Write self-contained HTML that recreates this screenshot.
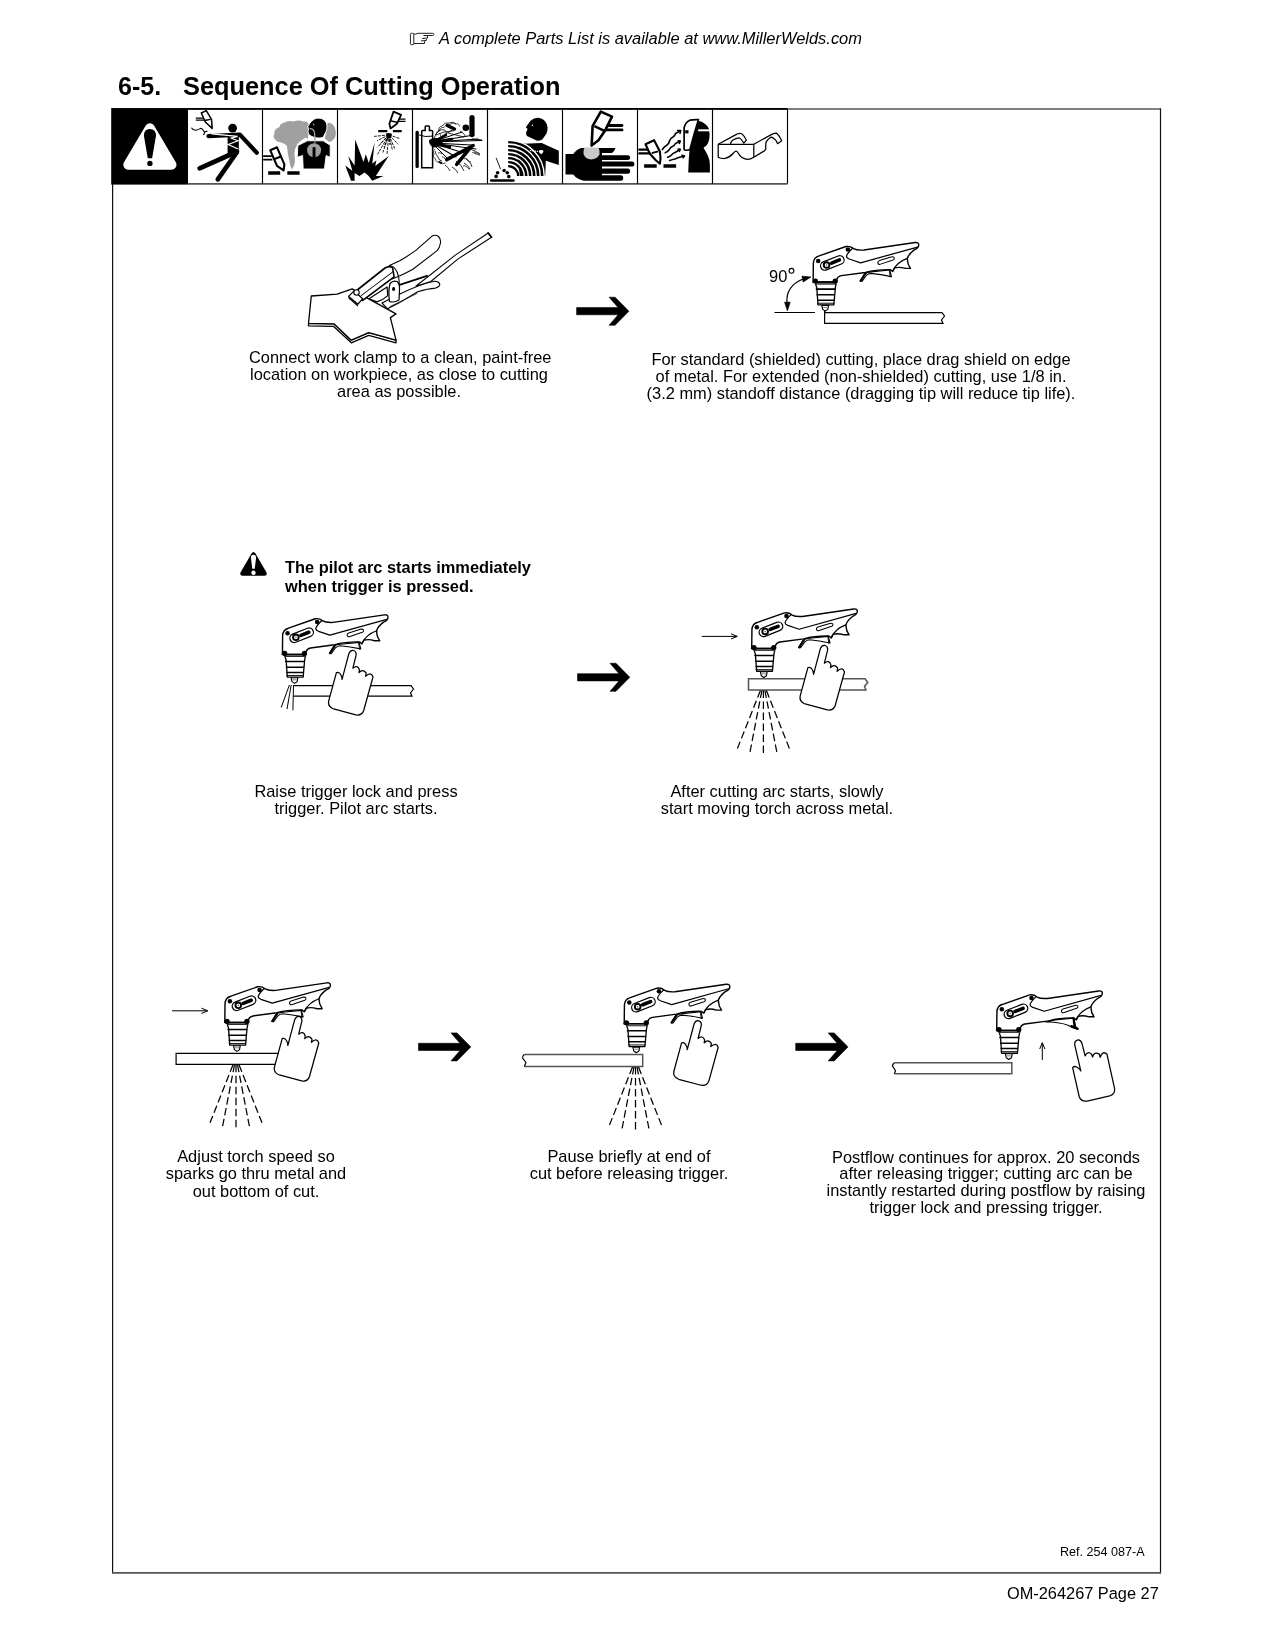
<!DOCTYPE html>
<html><head><meta charset="utf-8">
<style>
html,body{margin:0;padding:0;background:#fff;}
body{width:1275px;height:1650px;position:relative;overflow:hidden;font-family:"Liberation Sans",sans-serif;color:#000;}
.t{position:absolute;white-space:pre;font-size:16.4px;line-height:17px;will-change:transform;}
.c{text-align:center;}
svg{position:absolute;overflow:visible;}
</style></head><body>

<!-- header -->
<svg width="1275" height="60" style="left:0;top:0;" viewBox="0 0 1275 60"><g fill="none" stroke="#222" stroke-width="1">
<rect x="410.4" y="33.3" width="3.4" height="11.4" rx="1"/>
<path d="M413.8 34.5 Q416 34 418 33.3 L432.5 33.3 Q433.8 33.3 433.8 34.4 Q433.8 35.5 432.5 35.5 L423.5 35.5 M427.5 35.8 L427.5 38 L422 38.5 M426.3 38.8 L426.3 40.5 L421 40.9 M424.5 41.2 L424.5 43.5 L413.8 43.5"/>
</g></svg>

<div class="t" id="hdr" style="left:438.5px;top:30px;font-style:italic;font-size:16.46px;">A complete Parts List is available at www.MillerWelds.com</div>
<div class="t" id="ttl1" style="left:118.2px;top:71.6px;font-weight:bold;font-size:25px;line-height:28px;">6-5.</div>
<div class="t" id="ttl2" style="left:183.3px;top:71.6px;font-weight:bold;font-size:25.35px;line-height:28px;">Sequence Of Cutting Operation</div>

<!-- box -->
<svg width="1275" height="1650" style="left:0;top:0;" viewBox="0 0 1275 1650"><g fill="none"><path d="M112.5 109 L1161 109" stroke="#555" stroke-width="1.7"/><path d="M112.6 108.5 L112.6 1573.5 M1160.5 108.5 L1160.5 1573.5" stroke="#111" stroke-width="1.2"/><path d="M112 1572.9 L1161 1572.9" stroke="#555" stroke-width="1.7"/></g></svg>


<svg id="icons" width="1275" height="200" style="left:0;top:0;" viewBox="0 0 1275 200">
<rect x="111.2" y="108.1" width="76.8" height="76.5" fill="#000"/>
<g fill="none" stroke="#000" stroke-width="1.15">
 <path d="M188 108.9 L787.5 108.9" stroke-width="1.7"/>
 <path d="M787.5 108.8 L787.5 183.8"/>
 <path d="M787.5 183.85 L188 183.85" stroke="#555" stroke-width="1.6"/>
 <path d="M262.5 108.8 V183.8 M337.5 108.8 V183.8 M412.5 108.8 V183.8 M487.5 108.8 V183.8 M562.5 108.8 V183.8 M637.5 108.8 V183.8 M712.5 108.8 V183.8"/>
</g>
<!-- icon1 warning -->
<g transform="translate(111,109)">
 <path d="M38.9 19.3 L17.3 55.8 L60.5 55.8 Z" fill="#fff" stroke="#fff" stroke-width="10" stroke-linejoin="round"/>
 <path d="M32.9 26.8 Q32.9 19.9 38.9 19.9 Q45 19.9 45 26.8 L41.1 49.2 L36.8 49.2 Z" fill="#000"/>
 <circle cx="38.9" cy="54.4" r="2.7" fill="#000"/>
</g>
<!-- icon2 electric shock -->
<g transform="translate(187,109)">
 <circle cx="45.6" cy="19.1" r="4.4" fill="#000"/>
 <path d="M21.5 27.1 L52.9 25.6 L69.8 43.8" fill="none" stroke="#000" stroke-width="4.2" stroke-linecap="round" stroke-linejoin="round"/>
 <path d="M40.6 27 L51.8 27 L51.8 44.7 L40.6 44.7 Z" fill="#000"/>
 <path d="M24.7 24.8 L50.6 27.4 L44.2 29.2 L51 31.8 L41.2 35.5 L51.2 40" fill="none" stroke="#fff" stroke-width="1.2" stroke-linejoin="miter"/>
 <path d="M43.5 45.5 L12.6 59.3 M50 43 L30.8 70.3" fill="none" stroke="#000" stroke-width="4.7" stroke-linecap="round"/>
 <path d="M14.3 4 L19.3 1.6 L24.5 10.3 L25.2 19.4 L18.5 13.3 Z" fill="#fff" stroke="#000" stroke-width="1.5" stroke-linejoin="round"/>
 <path d="M17.6 11.5 L23.5 10.3" stroke="#000" stroke-width="1.3"/>
 <path d="M8.8 9.1 L16.8 9.1 M8.8 11.2 L17.8 11.2" stroke="#000" stroke-width="1.2"/>
 <path d="M4.4 18.8 Q6 21.5 9 21.2 Q12 20.5 13.5 19.4 Q15.5 19.5 16.5 21.8 L17.6 23.5 M16.5 26 L18.2 22.5 L20.6 22.3" fill="none" stroke="#000" stroke-width="1.1"/>
</g>
<!-- icon3 fumes -->
<g transform="translate(262,109)">
 <path d="M12.9 30.6 Q10.5 27 12.4 25 Q11.5 20 17.6 18 Q17.6 14.5 22.4 13.5 Q26 11 31.8 12.6 Q36 10.5 41.2 12.4 Q45 12 47 15.5 L46 30 L44.7 28.8 Q40 30 35.3 35.3 Q32.4 40 32.4 44.7 Q33 50 32.9 52.9 Q32 58 30 60.5 Q28 58 27.6 52.9 Q26.5 48 25.9 44.7 Q25.5 40 24.7 36.5 Q22 34 18.8 33.5 Q14.5 33 12.9 30.6 Z" fill="#a0a0a0"/>
 <path d="M62.9 29.4 L65.5 14 Q68 13 70.6 15.3 Q73.5 18 73.8 22.4 Q74 27.5 72.4 29.4 Q70 32.5 67.1 32.9 Z" fill="#a0a0a0"/>
 <path d="M45.9 17.6 Q48 13.5 50 11.8 Q53 9 55.9 9.1 Q60 9 62.4 11.2 Q65 13.5 65 17.1 Q65 20 64.1 22.4 L61.2 28.2 Q58 29.5 54.1 28.8 L50 27.6 Q47 26 46.5 24.7 Q45.5 22 46.5 20 Z" fill="#000" stroke="#fff" stroke-width="0.9"/>
 <path d="M51.2 14.9 L52.2 15.6 L51 16" fill="none" stroke="#fff" stroke-width="0.7"/>
 <path d="M35.9 36.5 L45.3 31.8 L61.2 31.8 L68.2 36.2 L68.2 48.2 L64.1 46.5 L62.4 60 L41.2 60 L40.6 46.5 L35.3 48.2 Z" fill="#000" stroke="#fff" stroke-width="0.9"/>
 <circle cx="52.1" cy="41.2" r="7" fill="#a0a0a0"/>
 <rect x="50.6" y="38.2" width="2.9" height="10.6" fill="#000"/>
 <path d="M47.6 19.6 Q52 19.5 52.6 24 L52.9 34.5" fill="none" stroke="#a0a0a0" stroke-width="1.2"/>
 <path d="M8.3 41.3 L15 38.3 L22.4 55.3 L21.6 61.4 L15 56.8 Z" fill="#fff" stroke="#000" stroke-width="2.1" stroke-linejoin="round"/>
 <path d="M11.8 50.2 L19.6 47.2" stroke="#000" stroke-width="2"/>
 <path d="M1.2 47.1 L9.7 47.1 M1.2 50.6 L10.3 50.6" stroke="#000" stroke-width="1.6"/>
 <path d="M6.2 64.1 L18.2 64.1 M25.3 64.1 L37.6 64.1" stroke="#000" stroke-width="3.5"/>
</g>
<!-- icon4 explosion -->
<g transform="translate(337,109)">
 <path d="M14.1 71.8 L8.2 56.5 L15.3 61.8 L11.2 47.1 L17.6 56.5 L18.2 30.6 L26.5 52.9 L28.8 45.3 L31.8 54.1 L37.6 33.5 L35.3 54.7 L39.4 51.2 L38.2 57.1 L51.8 47.1 L38.8 67.1 L46.5 67.1 L35.3 71.8 L31.2 66.5 L27.6 63.5 L22.4 67.1 L17.6 64 L17.6 71.8 Z" fill="#000"/>
 <path d="M56.5 2.6 L64.1 5.8 L60 14.7 L53.5 19.4 L52.4 14.7 Z" fill="#fff" stroke="#000" stroke-width="1.8" stroke-linejoin="round"/>
 <path d="M52.9 11.8 L61.2 13.5" stroke="#000" stroke-width="1.4"/>
 <path d="M61.8 10.2 L68.5 10.2 M61 12.4 L68.5 12.4" stroke="#000" stroke-width="1.3"/>
 <path d="M41.2 22.1 L50.3 22.1 M55.9 22.1 L64.7 22.1" stroke="#000" stroke-width="2.4"/>
 <path d="M49 24.5 Q52 23.5 55 25 L54 29 L50 30 Z" fill="#000"/>
 <g stroke="#000" stroke-width="0.9" fill="none" stroke-dasharray="3 1">
  <path d="M51.8 25.9 L37.1 27.4 M51.8 25.9 L40 31.8 M51.8 25.9 L40.6 38.2 M51.8 25.9 L40.6 45.3 M51.8 25.9 L45.9 43.5 M51.8 25.9 L50 45.3 M51.8 25.9 L55.3 40.6 M51.8 25.9 L58.2 40.6 M51.8 25.9 L61.2 35.3 M51.8 25.9 L62.4 29.4 M51.8 25.9 L43 35 M51.8 25.9 L47 38 M51.8 25.9 L53 36"/>
 </g>
</g>
<!-- icon5 cylinder -->
<g transform="translate(412,109)">
 <rect x="3.5" y="21.8" width="3.3" height="37.3" rx="1.5" fill="#000"/>
 <path d="M9.7 58.8 L9.7 22.5 Q9.7 21.5 10.7 21.5 L13.2 21.5 L13.2 18 Q13.2 17.1 14 17.1 L16.6 17.1 Q17.4 17.1 17.4 18 L17.4 21.5 L19.6 21.5 Q20.6 21.5 20.6 22.5 L20.6 58.8 Z" fill="#fff" stroke="#000" stroke-width="1.5"/>
 <path d="M6.8 25.9 Q13 28.5 20.6 27.1" fill="none" stroke="#000" stroke-width="1"/>
 <rect x="57.4" y="5.9" width="5.2" height="22.3" rx="2.6" fill="#000"/>
 <circle cx="53.8" cy="18.8" r="3.3" fill="#000"/>
 <g fill="none" stroke="#000" stroke-width="0.8">
  <path d="M22 30 Q23 24 27 22 Q26 18 30 17 Q33 13 37 14 Q41 12 44 15 M26 22 Q30 20 33 21 M24 26 Q32 22 40 22 M48 22 Q52 24 54 28 M36 24 Q44 26 52 28 M58 40 Q64 42 68 45 M52 54 Q56 56 58 60 M44 52 Q50 56 52 62 M23 42 Q24 46 26 48 Q27 52 30 52 M33 56 Q36 58 38 62 M40 58 Q44 60 46 64 M60 30 Q64 30 70 31 M62 44 Q66 46 68 46 M54 50 Q60 54 60 58"/>
 </g>
 <g fill="none" stroke="#000" stroke-linecap="round">
  <path d="M20 33 L62 26" stroke-width="1.2"/>
  <path d="M20 33 L66 30" stroke-width="1.1"/>
  <path d="M20 33 L70 31.5" stroke-width="1"/>
  <path d="M20 34 L60 36" stroke-width="1.2"/>
  <path d="M20 34 L64 40" stroke-width="1"/>
  <path d="M20 34 L52 44" stroke-width="1.3"/>
  <path d="M20 34 L44 48" stroke-width="1.1"/>
  <path d="M20 34 L36 50" stroke-width="1"/>
  <path d="M20 33 L50 23" stroke-width="1"/>
  <path d="M20 33 L42 20" stroke-width="0.9"/>
  <path d="M22 33 L40 30 M22 35 L38 38 M24 32 L34 26" stroke-width="2.4"/>
 </g>
 <g fill="none" stroke="#000" stroke-width="0.7">
  <path d="M24 26 Q24 22 27.5 22 Q28 18 32 18.5 Q34 14.5 38 15.5 Q41 12.5 44 15 Q47 14 47.5 17.5"/>
  <path d="M23 40 Q20 42 22 45 Q20 48 23.5 50 Q24 54 28 53 Q30 56 33.5 54"/>
  <path d="M27 24 Q29 25 29 28 M33 21 Q35 23 34 26 M40 18 Q42 20 41 23"/>
  <path d="M26 44 Q28 43 30 45 M30 48 Q32 47 33 50"/>
  <path d="M59 31 Q62 30 64 31.5 Q66 30 69 31.5 M60 44 Q62 42 64 44 Q66 43 67 45.5 M52 50 Q54 48 56 51 Q57 53 59 53 M51 57 Q53 56 55 58 Q56 60 58 60"/>
 </g>
 <path d="M17.1 31 Q20 28.5 26.5 29 L31 33 Q27 38.5 21 38.5 Q16.5 35 17.1 31 Z" fill="#000"/>
 <path d="M34.7 50.6 L61.2 36.5 M44.7 55.3 L58.8 38.2 M35.3 16.5 L42.4 20" stroke="#000" stroke-width="3.5" stroke-linecap="round"/>
 <path d="M26.5 51.8 L30.6 53.5 L29 55.3 L26.8 53.8 Z" fill="#000"/>
</g>
<!-- icon6 pacemaker -->
<g transform="translate(487,109)">
 <defs>
  <clipPath id="c6body"><path d="M36.5 34.7 L54.7 34.1 L71.8 41.8 L71.8 55.9 L58.8 51.8 L58.2 67.1 L32.9 67.1 L30 40 Z"/></clipPath>
  <clipPath id="c6arc"><rect x="21.2" y="0" width="60" height="67.1"/></clipPath>
 </defs>
 <path d="M38.8 18.2 L43.5 11.8 Q47 8.8 50.6 8.8 Q55 8.8 58.2 12.4 Q60.6 15 60.6 18.8 Q60.6 22 59.4 24.7 L55.3 30.6 Q53 31.8 50 31.8 L40 27.1 Q38.8 25 39.1 23.5 L40.6 20 Z" fill="#000"/>
 <circle cx="45.3" cy="16.2" r="0.7" fill="#fff"/>
 <g clip-path="url(#c6arc)" fill="none" stroke="#000" stroke-width="2.3">
  <circle cx="21.2" cy="67.1" r="10"/><circle cx="21.2" cy="67.1" r="14"/><circle cx="21.2" cy="67.1" r="18"/><circle cx="21.2" cy="67.1" r="22"/><circle cx="21.2" cy="67.1" r="26"/><circle cx="21.2" cy="67.1" r="30"/><circle cx="21.2" cy="67.1" r="34"/>
 </g>
 <path d="M36.5 34.7 L54.7 34.1 L71.8 41.8 L71.8 55.9 L58.8 51.8 L58.2 67.1 L32.9 67.1 L30 40 Z" fill="#000"/>
 <g clip-path="url(#c6body)" fill="none" stroke="#fff" stroke-width="1.4">
  <circle cx="21.2" cy="67.1" r="16"/><circle cx="21.2" cy="67.1" r="20"/><circle cx="21.2" cy="67.1" r="24"/><circle cx="21.2" cy="67.1" r="28"/><circle cx="21.2" cy="67.1" r="32"/><circle cx="21.2" cy="67.1" r="36"/>
 </g>
 <path d="M51.8 42 Q52.5 40.4 54 41.2 Q55.5 40.4 56.5 42 Q56.5 44 54 45.3 Q51.8 44 51.8 42 Z" fill="#fff"/>
 <path d="M43 41.5 L51 42.5" stroke="#fff" stroke-width="1.2" stroke-dasharray="1.5 0.8"/>
 <path d="M9.1 48.8 L13.5 60" stroke="#000" stroke-width="0.9"/>
 <g fill="#000"><circle cx="10.6" cy="63.8" r="1.8"/><circle cx="9.1" cy="67.4" r="1.8"/><circle cx="17.1" cy="61.5" r="1.8"/><circle cx="20.3" cy="63.8" r="1.8"/><circle cx="21.8" cy="67.6" r="1.8"/></g>
 <path d="M4.1 71.5 L26.5 71.5" stroke="#000" stroke-width="2.4" stroke-linecap="round"/>
</g>
<!-- icon7 glove -->
<g transform="translate(562,109)">
 <path d="M3.5 45 L11.2 45 Q15 40 19.4 39.1 L53.5 39.1 Q52.5 42.5 50 44.1 L40 44.1 L40 46.2 L66 46.2 Q68.2 46.5 68.2 48.5 Q68.2 50.9 66 50.9 L40 50.9 L40 52.4 L70 52.4 Q72.4 52.4 72.4 55 Q72.4 57.6 70 57.6 L40 57.6 L40 59.4 L66 59.4 Q68.2 59.4 68.2 62 Q68.2 64.7 66 64.7 L40 64.7 L40 66.2 L59 66.2 Q61.2 66.2 61.2 69 Q61.2 71.8 59 71.8 L21.8 71.8 Q15 70.5 11.2 65.6 L3.5 65.6 Z" fill="#000"/>
 <path d="M22.5 38.6 L36.5 38.6 Q38 42 37.5 45.5 Q35 50 29.4 50.5 Q23 50 21.5 45 Q21 41 22.5 38.6 Z" fill="#c8c8c8"/>
 <path d="M38.8 2.6 L50 7.6 L42.9 21.8 L36.5 31.2 L29.6 36.5 L30 29.4 L30.6 17.1 Z" fill="#fff" stroke="#000" stroke-width="2.6" stroke-linejoin="round"/>
 <path d="M32.4 17.1 L42.4 21.8" stroke="#000" stroke-width="2.4"/>
 <path d="M46 16.5 L60 16.5 M44.7 20.9 L60 20.9" stroke="#000" stroke-width="2.9" stroke-linecap="round"/>
</g>
<!-- icon8 helmet -->
<g transform="translate(637,109)">
 <path d="M8.5 35.3 L17.1 31.2 L22.9 42.4 L23.5 49.4 L22.9 54.7 L18.8 51.2 L12.9 44.7 Z" fill="#fff" stroke="#000" stroke-width="2.1" stroke-linejoin="round"/>
 <path d="M14.7 44.1 L21.2 42.4" stroke="#000" stroke-width="2"/>
 <path d="M2.4 40.6 L10.5 40.6 M2.4 44.4 L12.4 44.4" stroke="#000" stroke-width="2.4" stroke-linecap="round"/>
 <path d="M7.1 57.1 L19.7 57.1 M26.5 57.1 L39.1 57.1" stroke="#000" stroke-width="3.5"/>
 <g fill="none" stroke="#000" stroke-width="1.6" stroke-linecap="round">
  <path d="M25.3 40.6 Q27 37.5 29.5 36.5 Q32 35 32.5 32 Q33.5 29 36 28 Q38 26.5 38.5 24.5 L42.5 22.2"/>
  <path d="M28.2 43.8 Q30.5 43 32 41 Q33.5 38 35.5 37.5 Q37.5 36.5 38.5 34.5 L42.8 32.3"/>
  <path d="M30.6 48.2 Q33 47.5 34.5 46 Q36 44 38 43.5 Q40 42.5 42.8 40.5"/>
  <path d="M32.6 51.5 Q35.5 50.5 38 50 Q41 48.5 43.5 48 L47.2 47.1"/>
 </g>
 <path d="M40 21.5 L43.8 21.6 L42.8 25 M40.5 31.8 L43.3 32 L42.2 35 M40.5 40 L43.3 40.2 L42.2 43 M44.5 46 L47.6 47.1 L45.6 49.2" fill="none" stroke="#000" stroke-width="1.5" stroke-linejoin="round"/>
 <path d="M61.2 11.8 Q68.5 13.5 71.8 19.4 Q73 25 72.4 29.4 Q71.5 34 69.4 36.5 L66.5 38.8 Q68.5 42 70.6 45.9 Q72.9 50.5 72.9 55.9 L72.9 63.5 L51.2 63.5 L51.8 50 L52.5 41 L59 11.5 Z" fill="#000"/>
 <path d="M61.2 21.3 L72.4 21.3" stroke="#fff" stroke-width="2"/>
 <path d="M47.1 18.8 Q48.5 13 52.9 11.2 Q57 10.3 61.5 10.6 Q57 25 52.9 40.6 Q51 41.5 48.2 41.2 Q47.1 41 47.1 40 Z" fill="#fff" stroke="#000" stroke-width="1.7" stroke-linejoin="round"/>
 <rect x="48.2" y="21.2" width="3.3" height="3.2" fill="#000"/>
</g>
<!-- icon9 glasses -->
<g transform="translate(712,109)" fill="none" stroke="#000" stroke-width="1.25" stroke-linejoin="round">
 <path d="M6.2 35.3 L23.5 25.9 Q26.5 24 29 24.5 Q31.5 25.5 34.4 31.2 L31.8 34.1 Q29.5 30 27.1 28.8 Q24 29 20.6 31.2 Q18.5 33 18.5 35.3"/>
 <path d="M41.8 35.3 L58.8 25.9 Q62 24 64.1 24.1 Q66.5 25 69.7 31.8 L65.6 34.7 Q63.5 30 62.4 30 Q60.5 28 58.8 28.2 Q56 30 54.1 32.9 Q53.5 36 53.8 40 Q53 42 50.6 42.9 L41.8 48.2"/>
 <path d="M6.2 35.3 L41.8 35.3 L41.8 48.2 Q38 50.5 35.3 50.3 Q29 49.5 26.5 44.5 Q25 42 24.1 42.1 Q23 42 21 44.5 Q17.6 48.5 12.5 49.5 Q8 49.5 6.2 48.2 Z"/>
</g>
</svg>

<!-- captions -->
<div class="t c" id="cap1" style="left:249px;top:349px;width:300px;">Connect work clamp to a clean, paint-free
location on workpiece, as close to cutting
area as possible.</div>
<div class="t c" id="cap2" style="left:640.7px;top:351px;width:440px;">For standard (shielded) cutting, place drag shield on edge
of metal. For extended (non-shielded) cutting, use 1/8 in.
(3.2 mm) standoff distance (dragging tip will reduce tip life).</div>

<div class="t" id="warn" style="left:285px;top:558px;font-weight:bold;line-height:19px;">The pilot arc starts immediately
when trigger is pressed.</div>

<div class="t c" id="cap3" style="left:206px;top:783px;width:300px;">Raise trigger lock and press
trigger. Pilot arc starts.</div>
<div class="t c" id="cap4" style="left:627px;top:783px;width:300px;">After cutting arc starts, slowly
start moving torch across metal.</div>

<div class="t c" id="cap5" style="left:106px;top:1148px;width:300px;">Adjust torch speed so
sparks go thru metal and</div>
<div class="t c" id="cap5c" style="left:106px;top:1183px;width:300px;">out bottom of cut.</div>
<div class="t c" id="cap6" style="left:478.5px;top:1148px;width:300px;">Pause briefly at end of
cut before releasing trigger.</div>
<div class="t c" id="cap7" style="left:785.5px;top:1149px;width:400px;">Postflow continues for approx. 20 seconds</div>
<div class="t c" id="cap7b" style="left:785.5px;top:1165px;width:400px;">after releasing trigger; cutting arc can be
instantly restarted during postflow by raising
trigger lock and pressing trigger.</div>

<div class="t" id="ref" style="left:1060px;top:1545px;font-size:12.6px;line-height:14px;">Ref. 254 087-A</div>
<div class="t" id="pg" style="left:1007px;top:1585px;font-size:16.35px;">OM-264267 Page 27</div>

<svg id="figs" width="1275" height="1650" style="left:0;top:0;" viewBox="0 0 1275 1650">
<defs>
 <!-- torch: origin at nozzle tip; drawn in 10.625x coords of fig2 zoom, tip at (210,800) -->
 <g id="torchbody">
  <g transform="scale(0.09412) translate(-210,-800)" fill="none" stroke="#000" stroke-linejoin="round" stroke-linecap="round">
   <!-- nozzle -->
   <path d="M112 520 L330 520 L322 560 L306 742 L138 742 L125 560 Z" fill="#fff" stroke-width="14"/>
   <path d="M120 575 L318 575 M128 636 L312 636 M134 692 L308 692" stroke-width="16"/>
   <path d="M132 725 L308 725" stroke-width="10"/>
   <path d="M178 748 L250 748 L242 790 L214 808 L188 790 Z" fill="#fff" stroke-width="12"/>
   <path d="M198 770 L232 770" stroke="#777" stroke-width="10"/>
   <!-- body outline -->
   <path d="M86 500 L88 300 Q92 238 150 222 L435 122 Q480 115 515 145 Q550 165 625 160 L1170 80 Q1208 76 1208 108 Q1206 138 1160 158 Q1100 205 1088 245 Q1082 300 1120 355 L1066 355 Q1000 335 950 350 L932 388 L905 368 Q760 365 640 398 L385 432 Q348 440 338 470 L332 500 Z" fill="#fff" stroke-width="15"/>
   <path d="M932 381 Q975 290 1086 249" stroke-width="13"/>
   <!-- head bottom band -->
   <path d="M84 500 L338 500" stroke-width="15"/>
   <path d="M112 516 L330 516" stroke="#555" stroke-width="14"/>
   <!-- shroud inner line -->
   <path d="M505 140 Q445 195 440 228 Q445 245 470 255 L590 296 L1195 128" stroke-width="13"/>
   <!-- slot -->
   <path d="M795 312 L935 265 Q955 255 945 238 Q938 228 915 234 L790 272 Q768 282 775 300 Q780 315 795 312 Z" stroke-width="11"/>
   <!-- badge -->
   <rect x="159" y="250.8" width="262" height="92" rx="46" transform="rotate(-21.5 290.2 296.8)" stroke-width="13"/>
   <circle cx="229" cy="319" r="30" stroke-width="20"/>
   <circle cx="229" cy="319" r="8" fill="#555" stroke="none"/>
   <path d="M282 298 L366 265" stroke-width="38"/>
   <!-- screws -->
   <g fill="#000" stroke="none">
    <circle cx="140" cy="275" r="24"/>
    <circle cx="455" cy="155" r="24"/>
    <circle cx="110" cy="490" r="28"/>
    <circle cx="320" cy="490" r="28"/>
   </g>
  </g>
 </g>
 <g id="trigA"><g transform="scale(0.09412) translate(-210,-800)" fill="none" stroke="#000" stroke-linejoin="round" stroke-linecap="round">
   <!-- trigger -->
   <path d="M585 488 L625 425 Q650 395 700 392 L900 372 L918 442 Q800 415 700 408 Q670 410 650 430 L605 492 Z" fill="#fff" stroke-width="12"/>
   <path d="M590 488 L640 410" stroke-width="22"/>
   <path d="M895 372 L905 445" stroke-width="10"/>
  </g></g>
 <g id="trigB"><g transform="scale(0.09412) translate(-210,-800)" fill="none" stroke="#000" stroke-linejoin="round" stroke-linecap="round">
   <path d="M608 410 Q700 380 906 369 L924 457 L947 482 L890 470 Q820 420 661 410 Z" fill="#fff" stroke-width="12"/>
   <path d="M902 372 L912 460" stroke-width="22"/>
   <path d="M880 455 L945 482" stroke-width="26"/>
  </g></g>
 <g id="torch"><use href="#torchbody"/><use href="#trigA"/></g>
 <g id="torch7"><use href="#torchbody"/><use href="#trigB"/></g>
 <!-- hand: origin at fingertip top; drawn in 15.9375x coords, fingertip (460,85) -->
 <g id="hand">
  <g transform="scale(0.06275) translate(-460,-85)">
   <path d="M405 135 Q430 78 478 88 Q528 105 518 165 L468 370 Q540 310 572 395 L565 440 Q630 370 680 450 L670 500 Q760 420 788 510 L640 1045 Q612 1130 515 1115 L160 1020 Q62 985 82 892 L205 440 Q262 420 292 515 L295 548 Z" fill="#fff" stroke="#000" stroke-width="20" stroke-linejoin="round"/>
  </g>
 </g>
 <!-- spray: origin at bar bottom -->
 <g id="spray" stroke="#000" stroke-width="1.25" fill="none" stroke-dasharray="7.5 3.5">
  <path d="M-3 0 L-26 58"/>
  <path d="M-1.5 0 L-13.5 62"/>
  <path d="M0 0 L0 63"/>
  <path d="M1.5 0 L13.5 62"/>
  <path d="M3 0 L26 58"/>
 </g>
 <!-- thick arrow: origin shaft left, center y -->
 <path id="arrow" d="M0 -3.6 L41.5 -3.6 L32.5 -14 L38.5 -14 L52.3 0 L38.5 14 L32.5 14 L41.5 3.6 L0 3.6 Z" fill="#000" stroke="#000" stroke-width="0.6" stroke-linejoin="round"/>
</defs>

<!-- Fig 1: clamp -->
<g id="fig1" fill="#fff" stroke="#000" stroke-width="1.1" stroke-linejoin="round" stroke-linecap="round">
 <path d="M308.5 323.3 L308.5 325.8 L333.4 326.3 L351.3 342.8 L368.7 335.3 L396 342.8 L396 340.2 L368.7 332.7 L351.3 340.2 L333.9 323.8 Z" stroke-width="1.3"/>
 <path d="M311.3 296 L337.2 294.1 L352.2 288.9 L367.8 298.4 L396 313.9 L390.4 317.6 L396 340.2 L368.7 332.7 L351.3 340.2 L333.9 323.8 L308.5 323.3 Z" stroke-width="1.3"/>
 <!-- lower handle (behind cable) -->
 <path d="M387.5 308.8 L398.8 303.1 L417.6 291.8 Q428 288.5 435.5 288.1 Q440 286.5 439.8 284.2 Q438.5 281 434.5 281.3 Q420 284 398.8 294.6 L382 303 Z"/>
 <path d="M390 306.5 L417 293.5" fill="none" stroke-width="0.7"/>
 <!-- cable -->
 <path d="M415.8 286.2 L455.3 255.1 L488.2 233 L491.5 237.2 L458.1 258.9 L430.8 281.5 Z"/>
 <path d="M488.2 233 L491.5 237.2" stroke-width="1.8"/>
 <!-- spring -->
 <path d="M398.8 285.2 L427.1 275.8" fill="none" stroke-width="1.8" stroke-dasharray="1 0.6"/>
 <!-- upper handle tube -->
 <path d="M389.4 265.5 L399.8 260.8 Q408 256 415.8 250.4 L431.8 236.3 Q435 234 438.5 236.5 Q441.5 239.5 440.2 244 Q439.5 248 437.4 250.4 Q425 260 412.9 269.2 Q405 273.5 398.8 276.3 L392 279 Z"/>
 <path d="M389.4 265.5 Q396 266 398.5 276.5 Q400 284 398.8 294" fill="none"/>
 <!-- upper jaw -->
 <path d="M354.1 292.5 L385 268 Q389 265.5 392.5 267.4 L394.1 276.8 L362.7 300.3 Z" stroke-width="1.6"/>
 <path d="M361.2 295.6 L392.5 272.1" fill="none" stroke-width="1" stroke-dasharray="0.8 0.5"/>
 <!-- lower jaw -->
 <path d="M369 298.7 L387.1 287 L387.8 295.6 Q383 300 376.9 301.9 Z" stroke-width="1.2"/>
 <!-- pivot plate -->
 <path d="M390 283.5 Q393 280 397 281.5 Q400 284 399.5 290 L399 300 Q394 303 389.5 301.5 Q388 292 390 283.5 Z" stroke-width="1.2"/>
 <ellipse cx="393.6" cy="289" rx="1.6" ry="1.9" fill="#000" stroke="none"/>
 <!-- bolt pad -->
 <path d="M348.6 296.4 L354.1 290.9 L362.7 298.7 L358 304.2 Z" stroke-width="1.3"/>
 <path d="M349 298 L357.5 305.5" fill="none" stroke-width="1.2"/>
 <circle cx="356.5" cy="292.5" r="2.7" stroke-width="1.1"/>
</g>
<use href="#arrow" x="576.6" y="311.2"/>

<!-- Fig 2 -->
<g fill="none" stroke="#000" stroke-width="1.2">
 <path d="M774.5 312.5 L815 312.5"/>
 <path d="M824.6 312.7 L942 312.7 L944.5 316 L941.5 320 L943 323.4 L824.6 323.4 L824.6 310"/>
 <path d="M787 303 Q785.5 286.2 803 279"/>
</g>
<path d="M787.4 310.8 L784.6 302.2 L790.2 302.2 Z M810.9 277 L802 276.2 L803.2 282 Z" fill="#000" stroke="#000" stroke-width="0.7" stroke-linejoin="round"/>
<text x="769" y="282.4" font-family="Liberation Sans" font-size="16.45px">90</text>
<circle cx="791.5" cy="270.8" r="2.4" fill="none" stroke="#000" stroke-width="1.1"/>
<use href="#torch" x="824.8" y="310.3"/>

<!-- Fig 3 -->
<g fill="none" stroke="#000" stroke-width="1.2">
 <path d="M293.5 685.6 L411 685.6 L413.5 689 L410.5 693 L412 696.2 L293.5 696.2"/>
 <path d="M289.4 685 L281.2 707.4 M291.2 685 L287 709.1 M293.5 685 L292.9 710.3" stroke-width="1"/>
</g>
<use href="#torch" x="294.1" y="682.6"/>
<use href="#hand" x="352.4" y="650.3"/>
<use href="#arrow" x="577.5" y="677.3"/>

<!-- Fig 4 -->
<g fill="none" stroke="#555" stroke-width="1.5">
 <path d="M748.5 678.8 L865 678.8 L867.8 682.5 L864.5 686.5 L866 690.1 L748.5 690.1 Z"/>
</g>
<g fill="none" stroke="#000" stroke-width="1">
 <path d="M701.8 636.4 L737 636.4 M731 633.8 L737.3 636.4 L731 639"/>
</g>
<use href="#torch" x="763.4" y="676.7"/>
<use href="#hand" x="823.9" y="645.3"/>
<use href="#spray" x="763.4" y="690.5"/>

<!-- Fig 5 -->
<g fill="none" stroke="#000" stroke-width="1.2">
 <path d="M290 1053.3 L176.1 1053.3 L176.1 1064.3 L290 1064.3"/>
 <path d="M172 1010.8 L207.5 1010.8 M201.5 1008.2 L207.8 1010.8 L201.5 1013.4" stroke-width="1"/>
</g>
<use href="#torch" x="236.5" y="1050.6"/>
<use href="#hand" x="298.2" y="1016.3"/>
<use href="#spray" x="236" y="1064.8"/>
<use href="#arrow" x="418.5" y="1046.9"/>

<!-- Fig 6 -->
<g fill="none" stroke="#555" stroke-width="1.5">
 <path d="M642.7 1054.5 L524.3 1054.5 L642.7 1054.5 L642.7 1066.4 L524.3 1066.4"/>
 <path d="M524.3 1054.5 Q522 1056.5 522.7 1058.1 L526 1062.5 Q525 1065 524.3 1066.4" stroke="#000" stroke-width="1.2"/>
</g>
<use href="#torch" x="635.9" y="1052"/>
<use href="#hand" x="697.6" y="1020.6"/>
<use href="#spray" x="635.5" y="1067"/>
<use href="#arrow" x="795.7" y="1046.9"/>

<!-- Fig 7 -->
<g fill="none" stroke="#555" stroke-width="1.5">
 <path d="M1011.8 1062.8 L894.4 1062.8 L1011.8 1062.8 L1011.8 1073.8 L894.4 1073.8"/>
 <path d="M894.4 1062.8 Q892.5 1064.5 892.4 1065.8 L895.5 1070.7 Q894.5 1072.8 894.4 1073.8" stroke="#000" stroke-width="1.2"/>
</g>
<g fill="none" stroke="#000" stroke-width="1">
 <path d="M1042.3 1060.1 L1042.3 1043 M1039.7 1049 L1042.3 1042.7 L1044.9 1049"/>
</g>
<use href="#torch7" x="1008.4" y="1058.7"/>
<use href="#hand" transform="translate(1076.3,1040.4) rotate(-28)"/>

<!-- small warning triangle -->
<path d="M253.4 552 Q254.5 552 255.5 553.5 L266.5 572.5 Q267.5 575.7 264.5 575.7 L242.5 575.7 Q239.5 575.7 240.5 572.5 L251.5 553.5 Q252.4 552 253.4 552 Z" fill="#000"/>
<path d="M250.9 557.5 Q250.9 554.8 253.5 554.8 Q256.1 554.8 256.1 557.5 L254.7 568.8 L252.3 568.8 Z" fill="#fff"/>
<circle cx="253.5" cy="572.8" r="2.2" fill="#fff"/>
</svg>

</body></html>
